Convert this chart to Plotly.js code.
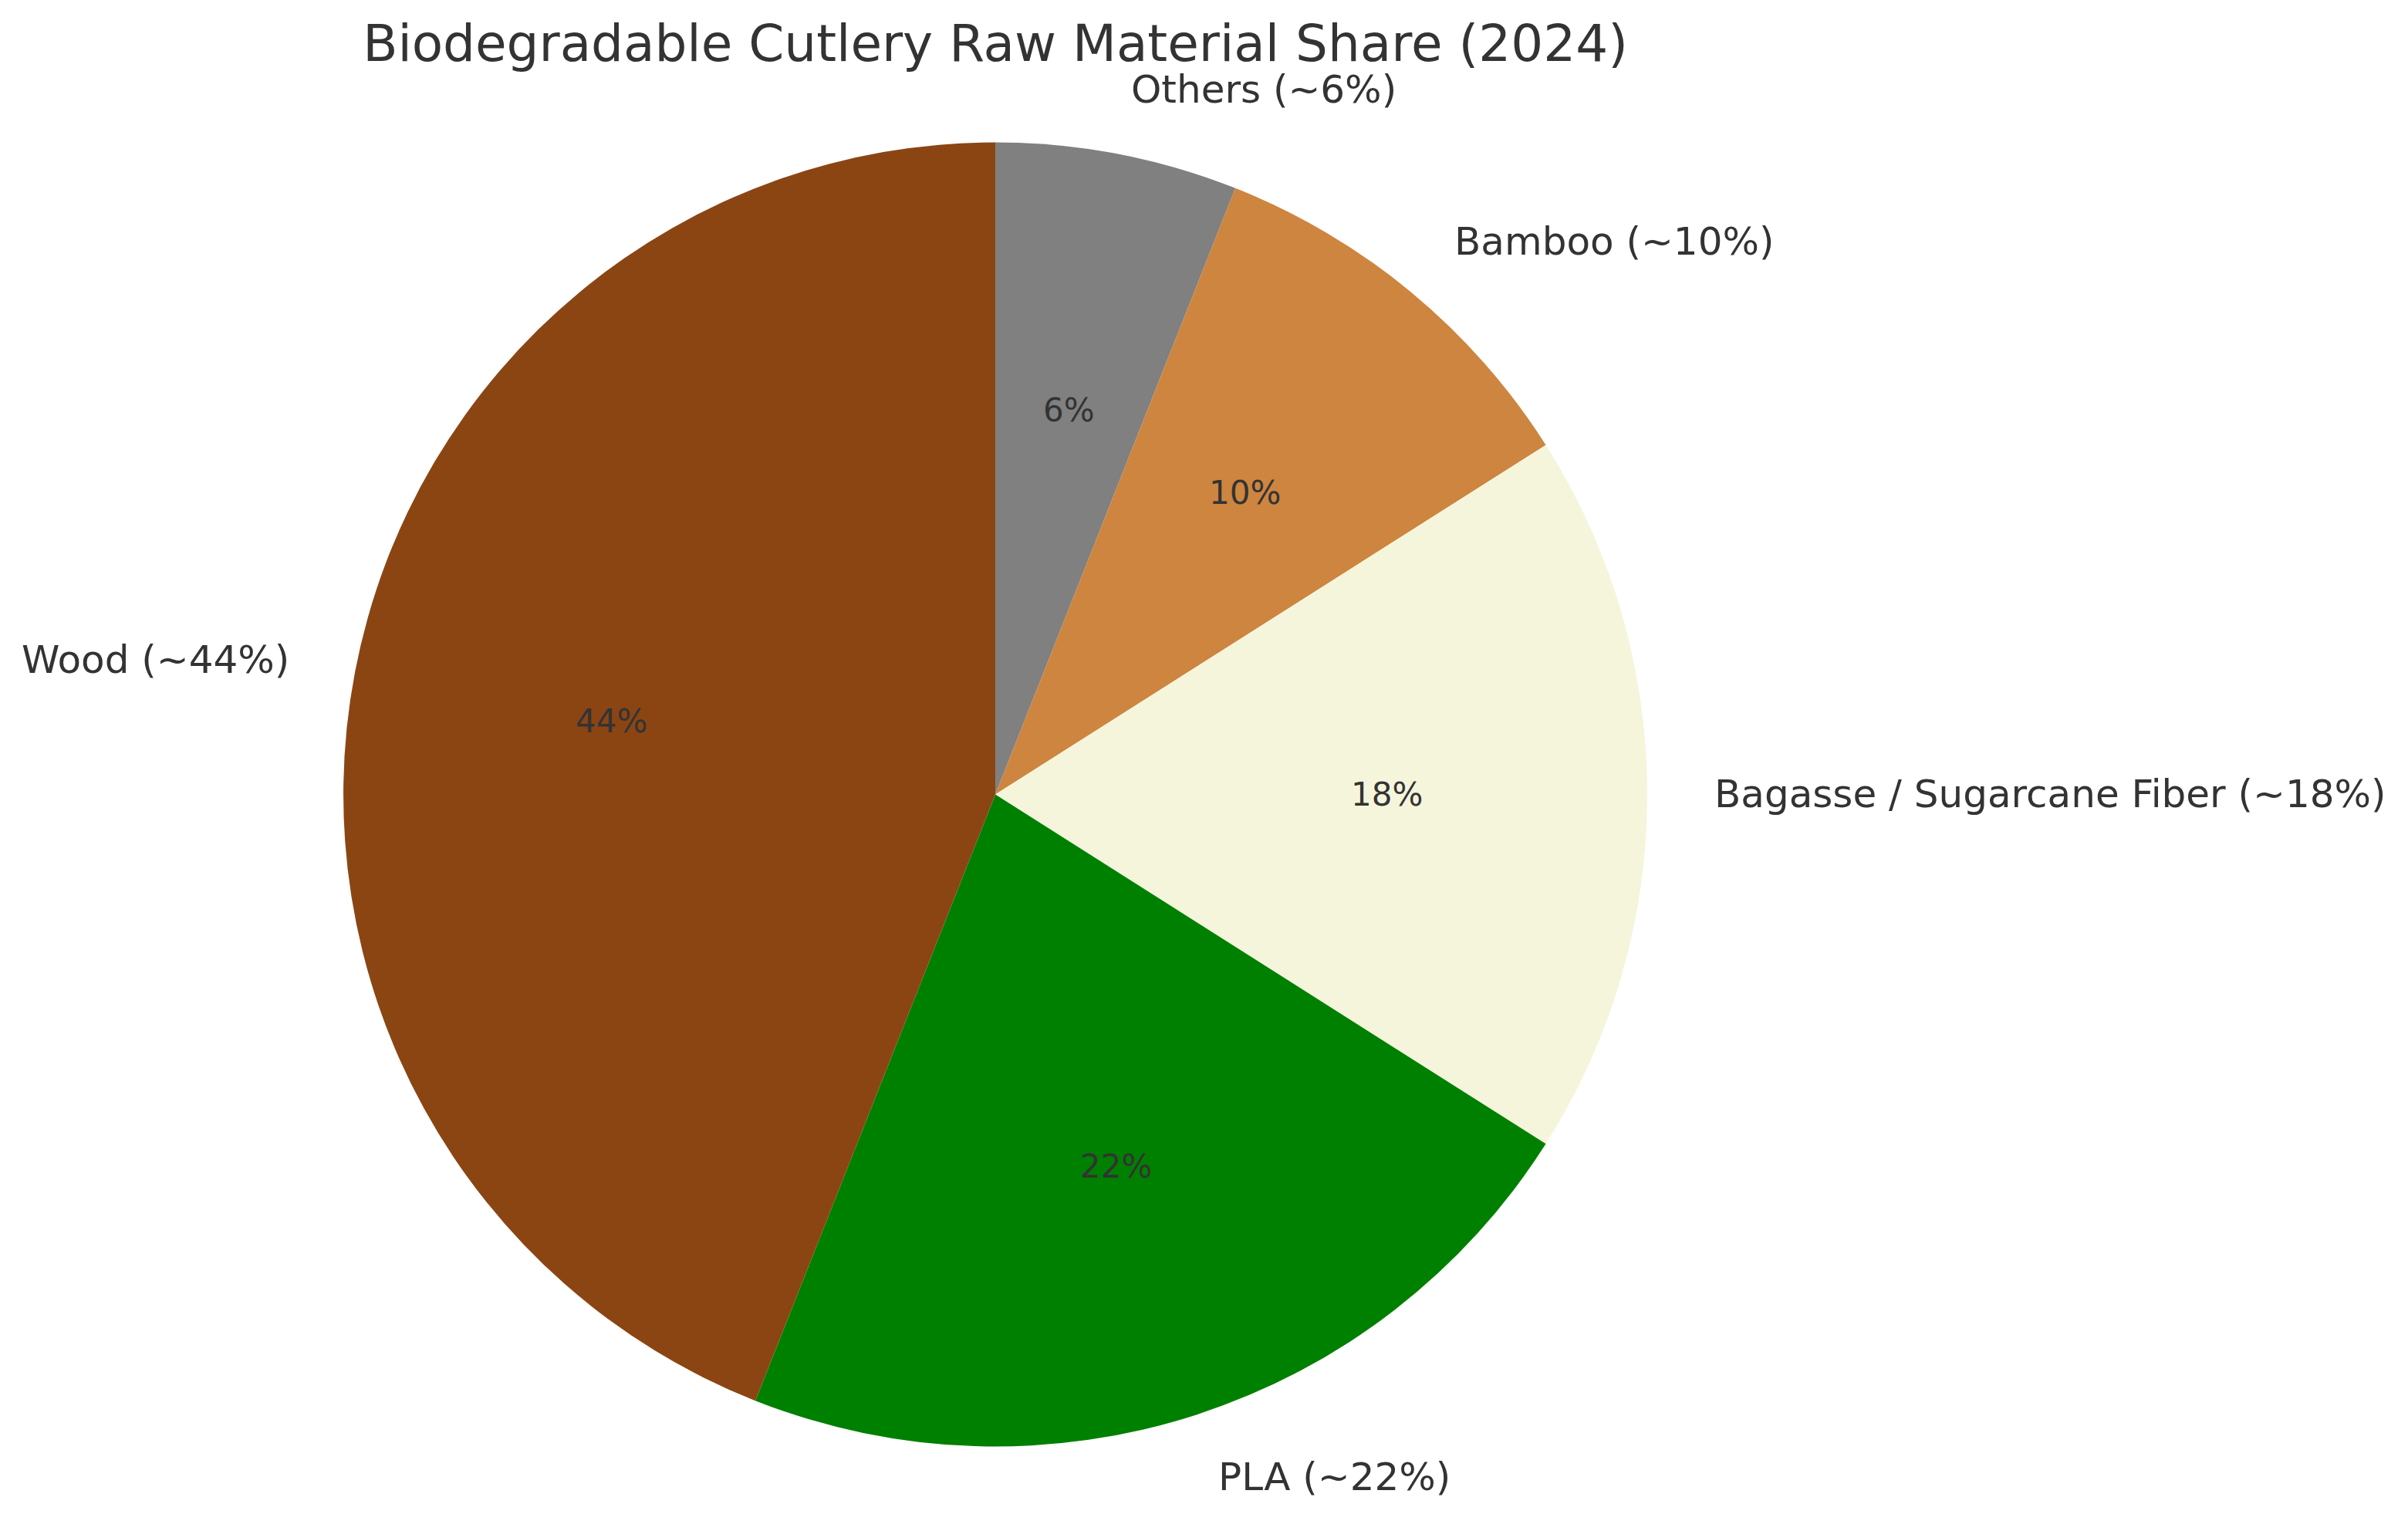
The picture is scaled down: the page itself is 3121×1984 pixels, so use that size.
<!DOCTYPE html>
<html>
<head>
<meta charset="utf-8">
<script src="https://cdn.plot.ly/plotly-3.0.1.min.js"></script>
<style>
  html, body { margin: 0; padding: 0; background: #fff; }
  #chart { width: 3121px; height: 1984px; }
</style>
</head>
<body>
<div id="chart"></div>
<script>
// ─── Data ──────────────────────────────────────────────────────────
const materials = ['Wood', 'PLA', 'Bagasse / Sugarcane Fiber', 'Bamboo', 'Others'];
const shares    = [44, 22, 18, 10, 6];
const colors    = ['#8B4513', '#008000', '#F5F5DC', '#CD853F', '#808080'];

// ─── Geometry (pixel frame of the pie) ─────────────────────────────
const W = 3121, H = 1984;
const domX = [0.1426, 0.6841];
const domY = [0.0549, 0.9073];
const cx = (domX[0] + domX[1]) / 2 * W;
const cy = (1 - (domY[0] + domY[1]) / 2) * H;
const R  = Math.min((domX[1] - domX[0]) * W, (domY[1] - domY[0]) * H) / 2;

const TEXT = '#333333';
const FONT = 'DejaVu Sans, sans-serif';

// Mid-angles (deg, counterclockwise from 3 o'clock); first slice starts at 12 o'clock
const total = shares.reduce((a, b) => a + b, 0);
const mids = [];
let acc = 90;
shares.forEach(v => {
    const span = v / total * 360;
    mids.push(acc + span / 2);
    acc += span;
});

const annotations = [];
mids.forEach((deg, i) => {
    const a = deg * Math.PI / 180;
    const c = Math.cos(a), s = Math.sin(a);
    // outer label at 1.1 r
    annotations.push({
        x: (cx + 1.1 * R * c) / W, y: 1 - (cy - 1.1 * R * s) / H,
        xref: 'paper', yref: 'paper', showarrow: false,
        xanchor: c >= 0 ? 'left' : 'right', yanchor: 'middle',
        text: `${materials[i]} (~${shares[i]}%)`,
        font: { family: FONT, size: 50, color: TEXT }
    });
    // percentage at 0.6 r
    annotations.push({
        x: (cx + 0.6 * R * c) / W, y: 1 - (cy - 0.6 * R * s) / H,
        xref: 'paper', yref: 'paper', showarrow: false,
        xanchor: 'center', yanchor: 'middle',
        text: `${Math.round(shares[i] / total * 100)}%`,
        font: { family: FONT, size: 42, color: TEXT }
    });
});

// Counterclockwise from 12 o'clock == clockwise from 12 o'clock in reverse order
const data = [{
    type: 'pie',
    labels: materials.slice().reverse(),
    values: shares.slice().reverse(),
    marker: { colors: colors.slice().reverse(), line: { width: 0 } },
    sort: false,
    direction: 'clockwise',
    rotation: 0,
    textinfo: 'none',
    hoverinfo: 'none',
    showlegend: false,
    domain: { x: domX, y: domY }
}];

const layout = {
    width: W, height: H,
    margin: { t: 0, b: 0, l: 0, r: 0 },
    paper_bgcolor: '#ffffff',
    showlegend: false,
    title: {
        text: 'Biodegradable Cutlery Raw Material Share (2024)',
        x: cx / W, xanchor: 'center',
        y: 1 - 56 / H, yanchor: 'middle',
        font: { family: FONT, size: 66, color: TEXT }
    },
    annotations: annotations
};

Plotly.newPlot('chart', data, layout, { staticPlot: true, displayModeBar: false });
</script>
</body>
</html>
